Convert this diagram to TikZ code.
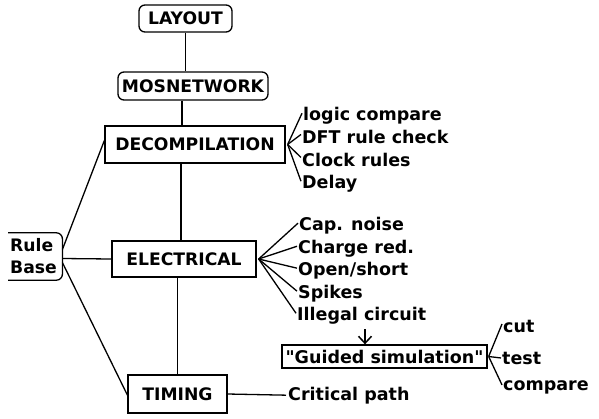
\documentclass[tikz,border=0pt]{standalone}
\usepackage{fontspec}
\setmainfont{DejaVu Sans}
\usetikzlibrary{arrows.meta,calc}
\begin{document}
\begin{tikzpicture}[x=1pt,y=-1pt,
  boxfont/.style={font=\fontsize{17.2}{22}\selectfont\bfseries},
  labfont/.style={font=\fontsize{17.5}{20}\selectfont\bfseries},
  rbox/.style={boxfont,draw,line width=1.3pt,rounded corners=6pt,inner sep=0pt},
  sbox/.style={boxfont,draw,line width=1.3pt,inner sep=0pt},
  lab/.style={labfont,anchor=base west,inner sep=0pt},
  conn/.style={line width=1.3pt}]
\useasboundingbox (0,0) rectangle (599,418);
% main boxes
\node[rbox,minimum width=93pt,minimum height=27pt] (lay) at (185.5,18.5) {LAYOUT};
\node[rbox,minimum width=150pt,minimum height=28pt] (mos) at (193,86) {MOSNETWORK};
\node[sbox,minimum width=180pt,minimum height=37pt] (dec) at (195,144.5) {DECOMPILATION};
\node[sbox,minimum width=144pt,minimum height=36pt] (elec) at (184,259) {ELECTRICAL};
\node[sbox,minimum width=99pt,minimum height=38pt] (tim) at (177.5,394) {TIMING};
\node[boxfont,anchor=west,text width=50pt,align=left,inner xsep=2pt,inner ysep=0pt,minimum height=47pt] (rb) at (8,256.5) {Rule\\Base};
\draw[line width=1.3pt,rounded corners=6pt] (rb.north west) -- (rb.north east) -- (rb.south east) -- (rb.south west);
\node[sbox,labfont,minimum width=205pt,minimum height=23pt] (gs) at (384.5,356.5) {\textquotedbl Guided simulation\textquotedbl};
% labels
\node[lab] (lc) at (303,120) {logic compare};
\node[lab] (dft) at (302,143) {DFT rule check};
\node[lab] (clk) at (302,166) {Clock rules};
\node[lab] (del) at (302,188) {Delay};
\node[lab] (cap) at (299,230) {Cap. noise};
\node[lab] (chg) at (298,253) {Charge red.};
\node[lab] (ops) at (298,275) {Open/short};
\node[lab] (spk) at (298,298) {Spikes};
\node[lab] (ill) at (297,320) {Illegal circuit};
\node[lab] (cut) at (503,332) {cut};
\node[lab] (tst) at (502,364) {test};
\node[lab] (cmp) at (503,390) {compare};
\node[lab] (crit) at (288,400) {Critical path};
% vertical spine
\draw[conn] (lay.south) -- (lay.south |- mos.north);
\draw[conn] ([xshift=-11pt]mos.south) -- ([xshift=-11pt]mos.south |- dec.north);
\draw[conn] ([xshift=-3pt]elec.north) -- ([xshift=-3pt]elec.north |- dec.south);
\draw[conn] (tim.north) -- (tim.north |- elec.south);
% rule base links
\draw[conn] ([yshift=7pt]rb.east) -- ([yshift=4pt]dec.west);
\draw[conn] ([yshift=-2pt]rb.east) -- (elec.west);
\draw[conn] ([yshift=-6pt]rb.east) -- ([yshift=-1pt]tim.west);
% fans
\coordinate (df) at ([xshift=2pt]dec.east);
\foreach \n in {lc,dft,clk,del} \draw[conn] (df) -- ([xshift=-1pt,yshift=2pt]\n.west);
\coordinate (ef) at ([xshift=2pt]elec.east);
\foreach \n in {cap,chg,ops,spk,ill} \draw[conn] (ef) -- ([xshift=-1pt,yshift=2pt]\n.west);
\coordinate (gf) at ([xshift=1pt]gs.east);
\foreach \n in {cut,cmp} \draw[conn] (gf) -- ([xshift=-1pt,yshift=2pt]\n.west);
\draw[conn] (gf) -- ([xshift=-1pt]tst.west);
\draw[conn] (tim.east) -- ([xshift=-2pt]crit.west);
% arrow into guided simulation
\coordinate (arr) at (365,329);
\draw[line width=1.5pt,-{Straight Barb[length=7pt,width=13pt,line width=1.5pt]}] (arr) -- (arr |- gs.north);
\end{tikzpicture}
\end{document}
